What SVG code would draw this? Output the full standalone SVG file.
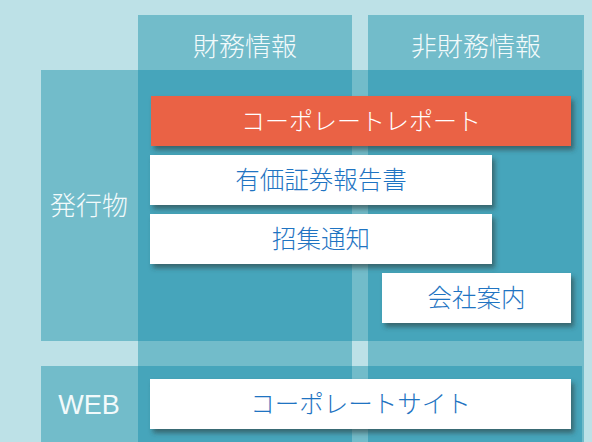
<svg xmlns="http://www.w3.org/2000/svg" width="592" height="442" viewBox="0 0 592 442">
  <defs>
    <filter id="sh" x="-10%" y="-20%" width="125%" height="160%">
      <feDropShadow dx="3" dy="4" stdDeviation="2.5" flood-color="#2f3b3e" flood-opacity="0.6"/>
    </filter>
  </defs>
  <style>
    .bg { fill: #BDE1E7; }
    .mid { fill: #72BCCA; }
    .dark { fill: #46A5BB; }
    .box { fill: #FFFFFF; filter: url(#sh); }
    .hot { fill: #EA6245; filter: url(#sh); }
    .hd { font-family: "Noto Sans CJK JP", "Liberation Sans", sans-serif; font-size: 26px; font-weight: 300; fill: #F2FAFB; text-anchor: middle; }
    .lbl { font-family: "Noto Sans CJK JP", "Liberation Sans", sans-serif; font-size: 24.5px; font-weight: 300; fill: #1F74C2; text-anchor: middle; }
    .wl { font-family: "Noto Sans CJK JP", "Liberation Sans", sans-serif; font-size: 24px; font-weight: 300; fill: #FFFFFF; text-anchor: middle; }
    .en { font-family: "Liberation Sans", sans-serif; font-size: 27px; fill: #F2FAFB; text-anchor: middle; }
  </style>
  <rect class="bg" x="0" y="0" width="592" height="442"/>
  <g id="grid">
    <rect class="mid" x="138" y="15" width="214" height="427"/>
    <rect class="mid" x="368" y="15" width="216" height="427"/>
    <rect class="mid" x="41" y="70" width="541" height="271"/>
    <rect class="mid" x="41" y="366" width="541" height="76"/>
    <rect class="dark" x="138" y="70" width="214" height="271"/>
    <rect class="dark" x="368" y="70" width="214" height="271"/>
    <rect class="dark" x="138" y="366" width="214" height="76"/>
    <rect class="dark" x="368" y="366" width="214" height="76"/>
  </g>
  <g id="headers">
    <text class="hd" x="245" y="56">財務情報</text>
    <text class="hd" x="476" y="56">非財務情報</text>
    <text class="hd" x="89" y="215">発行物</text>
    <text class="en" x="89" y="414">WEB</text>
  </g>
  <g id="connectors"/>
  <g id="corporate-report">
    <rect class="hot" x="151" y="96" width="420" height="50"/>
    <text class="wl" x="361" y="130">コーポレートレポート</text>
  </g>
  <g id="yuho">
    <rect class="box" x="150" y="155" width="342" height="50"/>
    <text class="lbl" x="321" y="189">有価証券報告書</text>
  </g>
  <g id="shoshu">
    <rect class="box" x="150" y="214" width="342" height="50"/>
    <text class="lbl" x="321" y="248">招集通知</text>
  </g>
  <g id="kaisha">
    <rect class="box" x="382" y="273" width="189" height="50"/>
    <text class="lbl" x="476.5" y="307">会社案内</text>
  </g>
  <g id="site">
    <rect class="box" x="150" y="379" width="421" height="50"/>
    <text class="lbl" x="360.5" y="413">コーポレートサイト</text>
  </g>
</svg>
